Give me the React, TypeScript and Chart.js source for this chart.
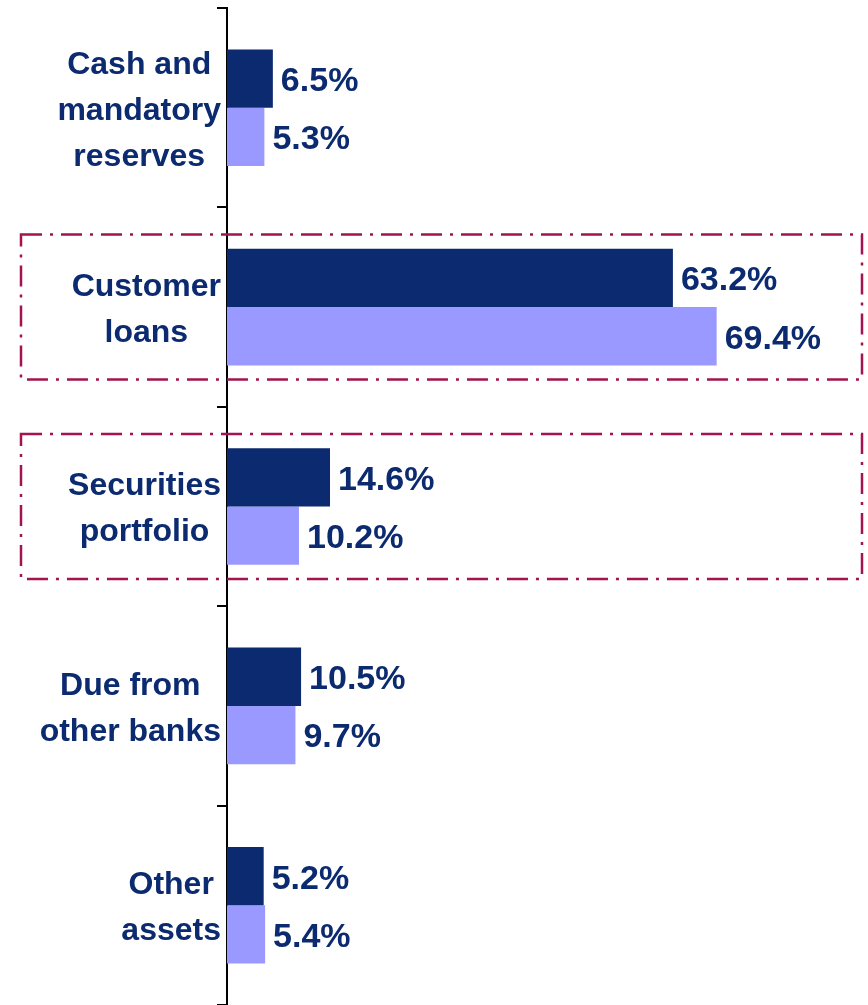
import React, { useEffect, useRef } from "react";
import { Chart, registerables } from "chart.js";

Chart.register(...registerables);

const categories: string[][] = [
  ["Cash and", "mandatory", "reserves"],
  ["Customer", "loans"],
  ["Securities", "portfolio"],
  ["Due from", "other banks"],
  ["Other", "assets"],
];
const darkSeries: number[] = [6.5, 63.2, 14.6, 10.5, 5.2];
const lightSeries: number[] = [5.3, 69.4, 10.2, 9.7, 5.4];
const highlighted: number[] = [1, 2];

const NAVY = "#0b2a6f";
const LIGHT = "#9999ff";
const BOX = "#a3134f";
const FONT = '"Liberation Sans", Arial, sans-serif';

const labelsPlugin = {
  id: "customLabels",
  afterDraw(chart: any) {
    const ctx = chart.ctx;
    const y = chart.scales.y;
    ctx.save();
    // category labels: block right aligned, lines centred in block
    ctx.font = `bold 32px ${FONT}`;
    ctx.fillStyle = NAVY;
    ctx.textAlign = "center";
    ctx.textBaseline = "middle";
    const labels = chart.data.labels as string[][];
    labels.forEach((lines, i) => {
      const cy = y.getPixelForValue(i) + 3;
      const w = Math.max(...lines.map((l) => ctx.measureText(l).width));
      const cx = 221 - w / 2;
      lines.forEach((line, j) => {
        ctx.fillText(line, cx, cy + (j - (lines.length - 1) / 2) * 46);
      });
    });
    // value labels
    ctx.font = `bold 34px ${FONT}`;
    ctx.textAlign = "left";
    chart.data.datasets.forEach((ds: any, di: number) => {
      const meta = chart.getDatasetMeta(di);
      meta.data.forEach((bar: any, i: number) => {
        ctx.fillText(ds.data[i].toFixed(1) + "%", bar.x + 8, bar.y + 3);
      });
    });
    ctx.restore();
  },
};

const boxPlugin = {
  id: "highlightBoxes",
  afterDatasetsDraw(chart: any) {
    const ctx = chart.ctx;
    const y = chart.scales.y;
    const n = chart.data.labels.length;
    const catH = (y.bottom - y.top) / n;
    const half = catH * 0.3635;
    ctx.save();
    ctx.strokeStyle = BOX;
    ctx.lineWidth = 2.5;
    ctx.setLineDash([21, 8, 3, 8]);
    highlighted.forEach((i) => {
      const cy = y.getPixelForValue(i);
      const left = 21;
      const right = chart.chartArea.right;
      ctx.strokeRect(left, cy - half, right - left, half * 2);
    });
    ctx.restore();
  },
};

export default function App() {
  const ref = useRef<HTMLCanvasElement>(null);
  useEffect(() => {
    if (!ref.current) return;
    const chart = new Chart(ref.current, {
      type: "bar",
      data: {
        labels: categories as any,
        datasets: [
          {
            label: "Series 1",
            data: darkSeries,
            backgroundColor: NAVY,
            borderWidth: 0,
            categoryPercentage: 0.585,
            barPercentage: 1.0,
          },
          {
            label: "Series 2",
            data: lightSeries,
            backgroundColor: LIGHT,
            borderWidth: 0,
            categoryPercentage: 0.585,
            barPercentage: 1.0,
          },
        ],
      },
      options: {
        indexAxis: "y",
        animation: false,
        responsive: false,
        maintainAspectRatio: false,
        layout: { padding: { top: 8, right: 6, bottom: 0, left: 0 } },
        plugins: {
          legend: { display: false },
          tooltip: { enabled: false },
        },
        scales: {
          x: { display: false, min: 0, max: 90 },
          y: {
            offset: true,
            afterFit: (scale: any) => {
              scale.width = 227;
            },
            ticks: { display: false },
            grid: {
              offset: true,
              drawOnChartArea: false,
              drawTicks: true,
              tickLength: 10,
              color: "#000000",
              lineWidth: 2,
            },
            border: { display: true, color: "#000000", width: 2 },
          },
        },
      },
      plugins: [boxPlugin, labelsPlugin],
    });
    return () => chart.destroy();
  }, []);
  return (
    <div style={{ position: "absolute", left: 0, top: 0, width: 868, height: 1005, background: "#fff" }}>
      <canvas ref={ref} width={868} height={1005} style={{ width: 868, height: 1005 }} />
    </div>
  );
}
